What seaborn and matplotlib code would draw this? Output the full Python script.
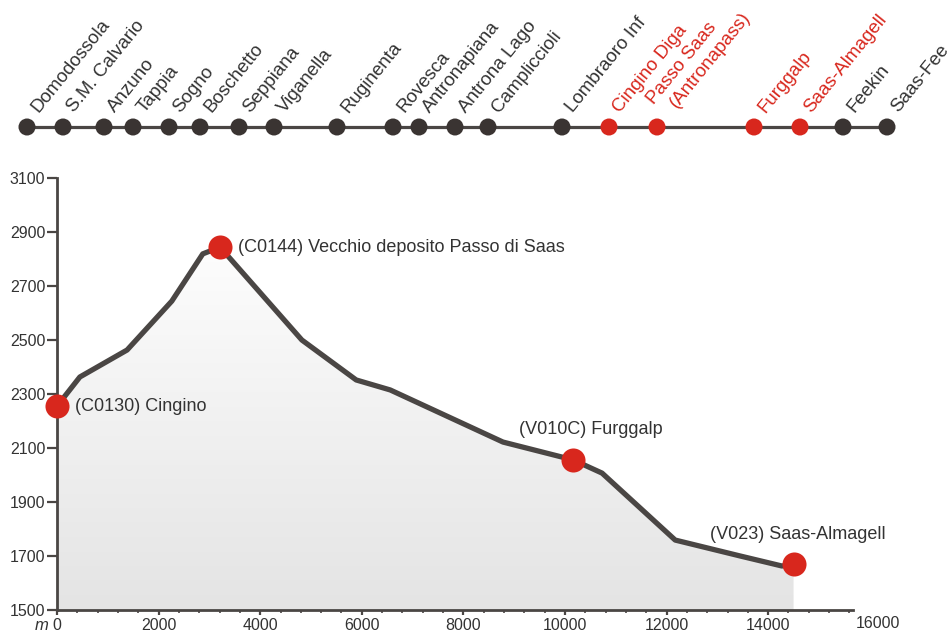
import numpy as np
import pandas as pd
import matplotlib
matplotlib.use("Agg")
import matplotlib.pyplot as plt
import seaborn as sns
from matplotlib.colors import LinearSegmentedColormap
from matplotlib.patches import PathPatch
from matplotlib.ticker import MultipleLocator

# ---------------- data ----------------
station_names = ["Domodossola", "S.M. Calvario", "Anzuno", "Tappia", "Sogno",
                 "Boschetto", "Seppiana", "Viganella", "Ruginenta", "Rovesca",
                 "Antronapiana", "Antrona Lago", "Campliccioli", "Lombraoro Inf",
                 "Cingino Diga", "Passo Saas\n(Antronapass)", "Furggalp",
                 "Saas-Almagell", "Feekin", "Saas-Fee"]
station_pos = [27, 63, 104, 133, 169, 200, 239, 274, 337, 393, 419, 455, 488,
               562, 609, 657, 754, 800, 843, 887]
station_on_route = [False] * 14 + [True] * 4 + [False] * 2

profile_dist = [0, 450, 1380, 2260, 2870, 3210, 4820, 5890, 6560, 8780,
                10160, 10730, 12170, 13450, 14270, 14500]
profile_elev = [2255, 2363, 2463, 2644, 2819, 2844, 2500, 2352, 2315, 2122,
                2056, 2007, 1759, 1700, 1663, 1670]

stop_labels = ["(C0130) Cingino", "(C0144) Vecchio deposito Passo di Saas",
               "(V010C) Furggalp", "(V023) Saas-Almagell"]
stop_dist = [0, 3210, 10160, 14500]
stop_elev = [2255, 2844, 2056, 1670]

y_ticks = [1500, 1700, 1900, 2100, 2300, 2500, 2700, 2900, 3100]
x_ticks = [0, 2000, 4000, 6000, 8000, 10000, 12000, 14000]

# ---------------- style ----------------
sns.set_theme(style="white")
plt.rcParams["font.family"] = ["Liberation Sans", "DejaVu Sans"]

LINE = "#4a4644"
DOT = "#3a3432"
RED = "#d8271d"
TXT = "#333333"
ROT = 51
LFS = 13.5

W, H = 949, 632
fig = plt.figure(figsize=(W / 100, H / 100), dpi=100)

# ---------------- station strip ----------------
axs = fig.add_axes([0, (H - 150) / H, 1, 150 / H])
axs.set_xlim(0, W)
axs.set_ylim(-23, 127)
axs.axis("off")
strip = pd.DataFrame({"pos": station_pos, "y": 0, "route": station_on_route})
axs.plot([strip.pos.min(), strip.pos.max()], [0, 0], color=LINE, lw=2.3, zorder=1,
         solid_capstyle="butt")
sns.scatterplot(data=strip, x="pos", y="y", hue="route",
                palette={False: DOT, True: RED}, s=150, linewidth=0,
                legend=False, ax=axs, zorder=2)
for name, x, on in zip(station_names, station_pos, station_on_route):
    col = RED if on else TXT
    lines = name.split("\n")
    if len(lines) == 1:
        axs.annotate(name, (x, 0), xytext=(8, 10), textcoords="offset points",
                     rotation=ROT, rotation_mode="anchor", ha="left", va="baseline",
                     fontsize=LFS, color=col, annotation_clip=False)
    else:
        axs.annotate(lines[0], (x, 0), xytext=(-2.5, 16), textcoords="offset points",
                     rotation=ROT, rotation_mode="anchor", ha="left", va="baseline",
                     fontsize=LFS, color=col)
        axs.annotate(lines[1], (x, 0), xytext=(14.5, 13), textcoords="offset points",
                     rotation=ROT, rotation_mode="anchor", ha="left", va="baseline",
                     fontsize=LFS, color=col)

# ---------------- elevation profile ----------------
ax = fig.add_axes([57 / W, (H - 610) / H, (853 - 57) / W, (610 - 178) / H])
prof = pd.DataFrame({"dist": profile_dist, "elev": profile_elev})

poly = ax.fill_between(prof.dist, prof.elev, y_ticks[0], color="none", lw=0)
grad = np.linspace(0, 1, 256).reshape(-1, 1)
cmap = LinearSegmentedColormap.from_list("g", ["#e4e4e4", "#fdfdfd"])
im = ax.imshow(grad, extent=[0, max(profile_dist), y_ticks[0], max(profile_elev)],
               origin="lower", cmap=cmap, aspect="auto", zorder=1)
clip = PathPatch(poly.get_paths()[0], transform=ax.transData,
                 facecolor="none", edgecolor="none")
ax.add_patch(clip)
im.set_clip_path(clip)

sns.lineplot(data=prof, x="dist", y="elev", color=LINE, lw=3.8, ax=ax,
             zorder=3, sort=False)
ax.lines[-1].set_solid_joinstyle("round")
stops = pd.DataFrame({"dist": stop_dist, "elev": stop_elev})
sns.scatterplot(data=stops, x="dist", y="elev", color=RED, s=300, linewidth=0,
                ax=ax, zorder=4, clip_on=False)

offsets = [(13, 0), (13, 0), (-39, 22), (-60, 21)]
for lab, x, y, off in zip(stop_labels, stop_dist, stop_elev, offsets):
    ax.annotate(lab, (x, y), xytext=off, textcoords="offset points",
                ha="left", va="center", fontsize=13, color=TXT)

ax.set_xlim(0, 15670)
ax.set_ylim(y_ticks[0], y_ticks[-1])
ax.set_xticks(x_ticks)
ax.set_yticks(y_ticks)
ax.xaxis.set_minor_locator(MultipleLocator(400))
ax.set_xlabel("")
ax.set_ylabel("")
for s in ["top", "right"]:
    ax.spines[s].set_visible(False)
for s in ["left", "bottom"]:
    ax.spines[s].set_color(LINE)
    ax.spines[s].set_linewidth(2.0)
ax.tick_params(axis="y", which="major", direction="out", length=7, width=1.6,
               color=LINE, pad=1.5, labelsize=11.5, labelcolor=TXT, left=True)
ax.tick_params(axis="x", which="major", direction="out", length=3.5, width=1.6,
               color=LINE, pad=2, labelsize=11.5, labelcolor=TXT, bottom=True)
ax.tick_params(axis="x", which="minor", direction="out", length=2, width=1.2,
               color=LINE, bottom=True)
ax.grid(False)
ax.set_facecolor("none")

ax.annotate("m", (0, y_ticks[0]), xytext=(-11, -11), textcoords="offset points",
            ha="center", va="center", fontsize=12, style="italic", color=TXT,
            annotation_clip=False)
ax.annotate("16000", (15670, y_ticks[0]), xytext=(18, -9.5), textcoords="offset points",
            ha="center", va="center", fontsize=11.5, color=TXT, annotation_clip=False)

fig.savefig("out.png", dpi=100)
